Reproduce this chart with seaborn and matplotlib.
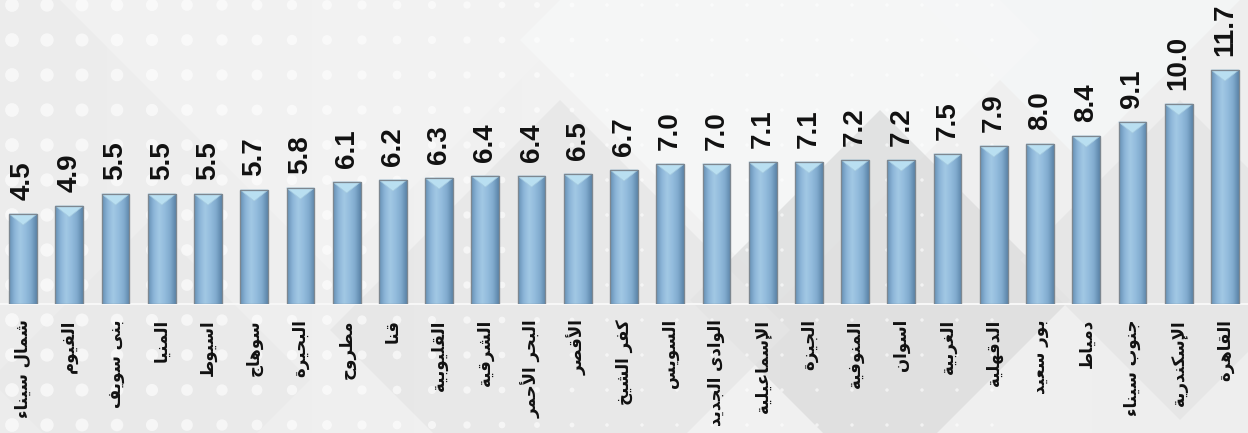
import numpy as np
import pandas as pd
import matplotlib
matplotlib.use("Agg")
import matplotlib.pyplot as plt
from matplotlib.patches import Polygon
from matplotlib.colors import LinearSegmentedColormap
import seaborn as sns

# ---------------- data ----------------
governorates = ["شمال سيناء", "الفيوم", "بنى سويف", "المنيا", "اسيوط", "سوهاج",
                "البحيرة", "مطروح", "قنا", "القليوبية", "الشرقية", "البحر الأحمر",
                "الأقصر", "كفر الشيخ", "السويس", "الوادى الجديد", "الإسماعيلية",
                "الجيزة", "المنوفية", "اسوان", "الغربية", "الدقهلية", "بور سعيد",
                "دمياط", "جنوب سيناء", "الإسكندرية", "القاهرة"]
values = [4.5, 4.9, 5.5, 5.5, 5.5, 5.7, 5.8, 6.1, 6.2, 6.3, 6.4, 6.4, 6.5, 6.7,
          7.0, 7.0, 7.1, 7.1, 7.2, 7.2, 7.5, 7.9, 8.0, 8.4, 9.1, 10.0, 11.7]

# ---------------- minimal Arabic shaping (presentation forms + RTL) ----------------
FORMS = {  # isolated, final, initial, medial  (None -> right-joining only)
    'ء': (0xFE80, None, None, None),
    'آ': (0xFE81, 0xFE82, None, None), 'أ': (0xFE83, 0xFE84, None, None),
    'ؤ': (0xFE85, 0xFE86, None, None), 'إ': (0xFE87, 0xFE88, None, None),
    'ئ': (0xFE89, 0xFE8A, 0xFE8B, 0xFE8C), 'ا': (0xFE8D, 0xFE8E, None, None),
    'ب': (0xFE8F, 0xFE90, 0xFE91, 0xFE92), 'ة': (0xFE93, 0xFE94, None, None),
    'ت': (0xFE95, 0xFE96, 0xFE97, 0xFE98), 'ث': (0xFE99, 0xFE9A, 0xFE9B, 0xFE9C),
    'ج': (0xFE9D, 0xFE9E, 0xFE9F, 0xFEA0), 'ح': (0xFEA1, 0xFEA2, 0xFEA3, 0xFEA4),
    'خ': (0xFEA5, 0xFEA6, 0xFEA7, 0xFEA8), 'د': (0xFEA9, 0xFEAA, None, None),
    'ذ': (0xFEAB, 0xFEAC, None, None), 'ر': (0xFEAD, 0xFEAE, None, None),
    'ز': (0xFEAF, 0xFEB0, None, None), 'س': (0xFEB1, 0xFEB2, 0xFEB3, 0xFEB4),
    'ش': (0xFEB5, 0xFEB6, 0xFEB7, 0xFEB8), 'ص': (0xFEB9, 0xFEBA, 0xFEBB, 0xFEBC),
    'ض': (0xFEBD, 0xFEBE, 0xFEBF, 0xFEC0), 'ط': (0xFEC1, 0xFEC2, 0xFEC3, 0xFEC4),
    'ظ': (0xFEC5, 0xFEC6, 0xFEC7, 0xFEC8), 'ع': (0xFEC9, 0xFECA, 0xFECB, 0xFECC),
    'غ': (0xFECD, 0xFECE, 0xFECF, 0xFED0), 'ف': (0xFED1, 0xFED2, 0xFED3, 0xFED4),
    'ق': (0xFED5, 0xFED6, 0xFED7, 0xFED8), 'ك': (0xFED9, 0xFEDA, 0xFEDB, 0xFEDC),
    'ل': (0xFEDD, 0xFEDE, 0xFEDF, 0xFEE0), 'م': (0xFEE1, 0xFEE2, 0xFEE3, 0xFEE4),
    'ن': (0xFEE5, 0xFEE6, 0xFEE7, 0xFEE8), 'ه': (0xFEE9, 0xFEEA, 0xFEEB, 0xFEEC),
    'و': (0xFEED, 0xFEEE, None, None), 'ى': (0xFEEF, 0xFEF0, None, None),
    'ي': (0xFEF1, 0xFEF2, 0xFEF3, 0xFEF4),
    'لآ': (0xFEF5, 0xFEF6, None, None), 'لأ': (0xFEF7, 0xFEF8, None, None),
    'لإ': (0xFEF9, 0xFEFA, None, None), 'لا': (0xFEFB, 0xFEFC, None, None),
}


def shape_arabic(text):
    units = []
    i = 0
    while i < len(text):
        if text[i] == 'ل' and i + 1 < len(text) and text[i + 1] in 'آأإا':
            units.append(text[i:i + 2]); i += 2
        else:
            units.append(text[i]); i += 1
    out = []
    for k, u in enumerate(units):
        if u not in FORMS:
            out.append(u); continue
        iso, fin, ini, med = FORMS[u]
        prev = units[k - 1] if k > 0 else None
        nxt = units[k + 1] if k + 1 < len(units) else None
        join_prev = prev in FORMS and FORMS[prev][2] is not None and fin is not None
        join_next = nxt in FORMS and ini is not None and FORMS[nxt][1] is not None
        if join_prev and join_next:
            cp = med
        elif join_prev:
            cp = fin
        elif join_next:
            cp = ini
        else:
            cp = iso
        out.append(chr(cp))
    return ''.join(out)[::-1]


# ---------------- figure ----------------
W, H = 1248, 433
fig = plt.figure(figsize=(W / 100, H / 100), dpi=100)
fig.patch.set_facecolor('#ececec')

# decorative background
bg = fig.add_axes([0, 0, 1, 1], zorder=-5)
bg.set_xlim(0, W); bg.set_ylim(H, 0); bg.axis('off')
grad = np.linspace(0, 1, 256)[None, :]
bg.imshow(np.vstack([grad] * 2), extent=[0, W, H, 0], aspect='auto',
          cmap=LinearSegmentedColormap.from_list('bgc', ['#ececec', '#f2f2f2', '#eeeeee']),
          zorder=0)
diamonds = [((330, -60), 330, '#f3f3f3'), ((780, 40), 260, '#f7f8f8'),
            ((1080, -40), 200, '#f5f7f8'), ((880, 300), 190, '#dddddd'),
            ((560, 330), 230, '#e6e6e6'), ((1180, 260), 160, '#e4e4e4'),
            ((150, 380), 160, '#e9e9e9')]
for (cx, cy), r, col in diamonds:
    bg.add_patch(Polygon([(cx, cy - r), (cx + r, cy), (cx, cy + r), (cx - r, cy)],
                         closed=True, facecolor=col, edgecolor='none', alpha=0.8, zorder=1))
gx, gy = np.meshgrid(np.arange(12, 1000, 35), np.arange(5, H, 35))
gx, gy = gx.ravel(), gy.ravel()
sizes = np.clip((650 - gx) / 650, 0.06, 1) * 100
bg.scatter(gx, gy, s=sizes, color='white', alpha=0.6, linewidths=0, zorder=2)

# main axes
ax = fig.add_axes([0, 0.298, 1, 0.702])
ax.set_facecolor('none')
df = pd.DataFrame({'gov': governorates, 'val': values})
sns.barplot(data=df, x='gov', y='val', color='#8db6d8', saturation=1, width=0.6,
            edgecolor='#7d8790', linewidth=0.8, ax=ax, zorder=3)

xlim = (-0.5, len(values) - 0.5)
ylim = (0, 15.2)
ax.set_xlim(*xlim); ax.set_ylim(*ylim)

cmap_bar = LinearSegmentedColormap.from_list(
    'bar', ['#6690b4', '#8cb5d8', '#a2c8e4', '#93bcdd', '#80aacd', '#5b84a8'])
hgrad = np.linspace(0, 1, 64)[None, :]
px_per_unit = 0.702 * H / (ylim[1] - ylim[0])
tri_h = 11 / px_per_unit
for p in list(ax.patches):
    x0, y0, w, h = p.get_x(), p.get_y(), p.get_width(), p.get_height()
    im = ax.imshow(hgrad, extent=[x0, x0 + w, y0, y0 + h], aspect='auto',
                   cmap=cmap_bar, zorder=3.5)
    im.set_clip_path(p)
    ax.add_patch(Polygon([(x0, y0 + h), (x0 + w, y0 + h), (x0 + w / 2, y0 + h - tri_h)],
                         closed=True, facecolor='#b9dff1', edgecolor='#a6cbe0',
                         linewidth=0.5, zorder=4))
    ax.add_patch(Polygon([(x0, y0), (x0 + w, y0), (x0 + w, y0 + h), (x0, y0 + h)],
                         closed=True, facecolor='none', edgecolor='#7d8790',
                         linewidth=0.9, zorder=4.2))
ax.set_xlim(*xlim); ax.set_ylim(*ylim)

ax.bar_label(ax.containers[0], labels=[f"{v:.1f}" for v in values], rotation=90,
             padding=10, fontsize=20, fontweight='bold', family='Liberation Sans',
             color='#111111', zorder=6)

ax.set_xticks(range(len(governorates)))
ax.set_xticklabels([shape_arabic(g) for g in governorates], rotation=90,
                   fontsize=12, fontweight='bold', family=['DejaVu Sans'],
                   color='#111111', va='top', ha='center')
ax.tick_params(axis='x', length=0, pad=11)
ax.set_yticks([])
ax.set_xlabel(''); ax.set_ylabel('')
for s in ['top', 'right', 'left']:
    ax.spines[s].set_visible(False)
ax.spines['bottom'].set_color('#f7f7f7')
ax.spines['bottom'].set_linewidth(1.5)

fig.savefig('out.png', dpi=100, facecolor=fig.get_facecolor())
